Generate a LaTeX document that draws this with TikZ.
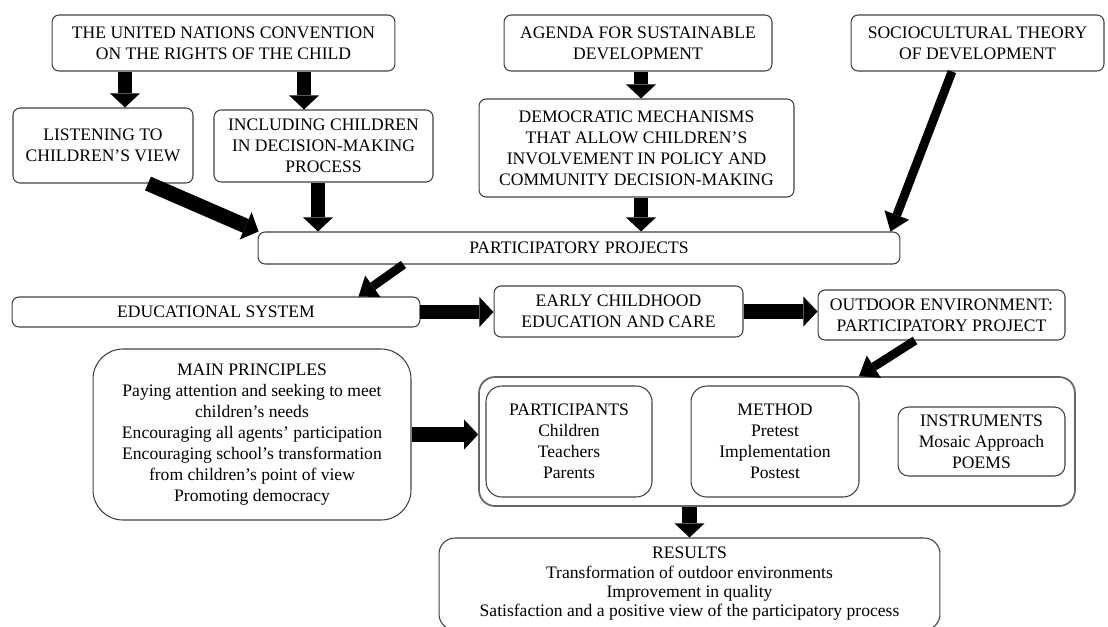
\documentclass[tikz,border=0pt]{standalone}
\usepackage{fontspec}
\setmainfont{Liberation Serif}
\usetikzlibrary{arrows.meta}

\begin{document}
\begin{tikzpicture}[x=0.02cm, y=-0.02cm,
    box/.style={draw=black!75, line width=0.6pt, rounded corners=4pt, align=center,
        inner sep=0pt, font=\fontsize{10}{12}\selectfont},
    fat/.style={line width=8.5pt, -{Triangle[length=8pt, width=17pt, line width=0pt]}},
    slim/.style={line width=5pt, -{Triangle[length=10pt, width=15pt, line width=0pt]}}]
    \useasboundingbox (0,0) rectangle (1108,626);

    % ===== Top: sources =====
    \node[box, minimum width=6.86cm, minimum height=1.12cm] (un) at (223.5,43)
        {THE UNITED NATIONS CONVENTION\\ON THE RIGHTS OF THE CHILD};
    \node[box, minimum width=5.36cm, minimum height=1.12cm] (agenda) at (638,43)
        {AGENDA FOR SUSTAINABLE\\DEVELOPMENT};
    \node[box, minimum width=5.06cm, minimum height=1.12cm] (socio) at (977.5,43)
        {SOCIOCULTURAL THEORY\\OF DEVELOPMENT};

    \node[box, minimum width=3.6cm, minimum height=1.5cm] (listen) at (103,145.5)
        {LISTENING TO\\CHILDREN'S VIEW};
    \node[box, minimum width=4.38cm, minimum height=1.44cm] (incl) at (323.5,146)
        {INCLUDING CHILDREN\\IN DECISION-MAKING\\PROCESS};
    \node[box, minimum width=6.3cm, minimum height=1.96cm] (demo) at (636.5,148)
        {DEMOCRATIC MECHANISMS\\THAT ALLOW CHILDREN'S\\INVOLVEMENT IN POLICY AND\\COMMUNITY DECISION-MAKING};

    \node[box, minimum width=12.84cm, minimum height=0.64cm] (pp) at (579,248)
        {PARTICIPATORY PROJECTS};

    % ===== Middle: system chain =====
    \node[box, minimum width=8.16cm, minimum height=0.6cm] (edu) at (216,312)
        {EDUCATIONAL SYSTEM};
    \node[box, minimum width=4.98cm, minimum height=1.02cm] (early) at (618.5,311.5)
        {EARLY CHILDHOOD\\EDUCATION AND CARE};
    \node[box, minimum width=4.94cm, minimum height=1.0cm] (outdoor) at (941.5,315)
        {OUTDOOR ENVIRONMENT:\\PARTICIPATORY PROJECT};

    % ===== Bottom: project =====
    \node[box, rounded corners=17pt, minimum width=6.36cm, minimum height=3.42cm] (principles) at (252,434.5)
        {MAIN PRINCIPLES\\Paying attention and seeking to meet\\children's needs\\Encouraging all agents' participation\\Encouraging school's transformation\\from children's point of view\\Promoting democracy};
    \node[box, draw=black!60, line width=1pt, rounded corners=9pt, minimum width=11.92cm, minimum height=2.58cm] (project) at (777,441.5) {};
    \node[box, rounded corners=9pt, minimum width=3.32cm, minimum height=2.22cm] (part) at (569,441.5)
        {PARTICIPANTS\\Children\\Teachers\\Parents};
    \node[box, rounded corners=9pt, minimum width=3.36cm, minimum height=2.22cm] (method) at (775,441.5)
        {METHOD\\Pretest\\Implementation\\Postest};
    \node[box, rounded corners=6pt, minimum width=3.34cm, minimum height=1.38cm] (instr) at (981.5,441.5)
        {INSTRUMENTS\\Mosaic Approach\\POEMS};

    \node[box, rounded corners=9pt, minimum width=10.02cm, minimum height=1.84cm,
        font=\fontsize{10}{11}\selectfont] (results) at (689.5,584)
        {RESULTS\\Transformation of outdoor environments\\Improvement in quality\\Satisfaction and a positive view of the participatory process};

    % ===== Arrows =====
    \draw[fat] ([xshift=0.44cm]listen.north |- un.south) -- ([xshift=0.44cm]listen.north);
    \draw[fat] ([xshift=-0.39cm]incl.north |- un.south) -- ([xshift=-0.39cm]incl.north);
    \draw[fat] ([xshift=0.09cm]demo.north |- agenda.south) -- ([xshift=0.09cm]demo.north);
    \draw[fat] ([xshift=0.9cm]listen.south) -- ([xshift=0.02cm]pp.north west);
    \draw[fat] ([xshift=-0.11cm]incl.south) -- ([xshift=-0.11cm]incl.south |- pp.north);
    \draw[fat] ([xshift=0.09cm]demo.south) -- ([xshift=0.09cm]demo.south |- pp.north);
    \draw[slim] ([xshift=-0.51cm]socio.south) -- ([xshift=-0.2cm]pp.north east);
    \draw[slim] ([xshift=2.92cm]pp.south west) -- ([xshift=-1.24cm]edu.north east);
    \draw[fat] (edu.east) -- (edu.east -| early.west);
    \draw[fat] (early.east) -- (early.east -| outdoor.west);
    \draw[slim] ([xshift=-0.53cm]outdoor.south) -- ([xshift=1.64cm]project.north);
    \draw[fat] (principles.east) -- (principles.east -| project.west);
    \draw[fat] (project.south -| results.north) -- (results.north);
\end{tikzpicture}
\end{document}
